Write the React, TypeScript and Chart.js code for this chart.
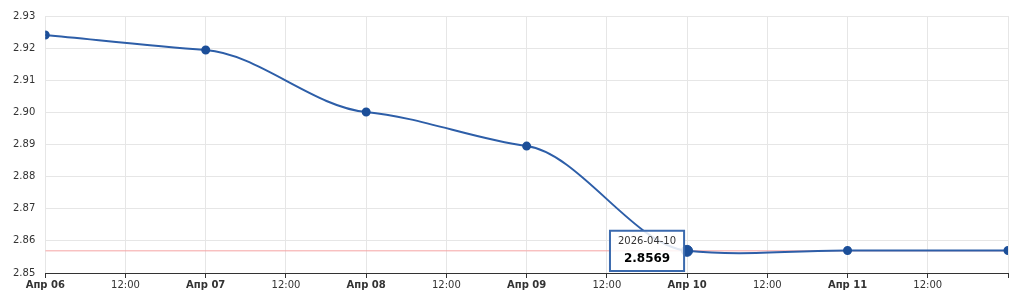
import React, { useEffect, useRef } from "react";
import { Chart, registerables } from "chart.js";

Chart.register(...registerables);

// Hours since 2026-04-06 00:00
const hours = [0, 24, 48, 72, 96, 120, 144];
const dates = ["2026-04-06", "2026-04-07", "2026-04-08", "2026-04-09", "2026-04-10", "2026-04-11", "2026-04-12"];
const rates = [2.9241, 2.9194, 2.9001, 2.8895, 2.8569, 2.857, 2.857];
const currentValue = 2.8569;
const dayLabels = ["Апр 06", "Апр 07", "Апр 08", "Апр 09", "Апр 10", "Апр 11", ""];
const yTicks = [2.85, 2.86, 2.87, 2.88, 2.89, 2.9, 2.91, 2.92, 2.93];
const activeIndex = 4;

const FONT = "'DejaVu Sans', Verdana, sans-serif";
const SMOOTH = 0.32;

// Smooth spline with softened tangents at each point (pixel space)
const smoothPlugin = {
  id: "softSpline",
  beforeDatasetDraw(chart: any, args: any) {
    if (args.index !== 0) return;
    const meta = args.meta;
    const line = meta.dataset;
    const pts = meta.data;
    const n = pts.length;
    if (n < 2) return;
    const m: number[] = new Array(n).fill(0);
    for (let i = 0; i < n; i++) {
      if (i === 0) m[i] = (pts[1].y - pts[0].y) / (pts[1].x - pts[0].x);
      else if (i === n - 1) m[i] = 0;
      else m[i] = SMOOTH * (pts[i + 1].y - pts[i - 1].y) / (pts[i + 1].x - pts[i - 1].x);
    }
    for (let i = 0; i < n; i++) {
      const p = pts[i];
      const dl = i > 0 ? (p.x - pts[i - 1].x) / 3 : 0;
      const dr = i < n - 1 ? (pts[i + 1].x - p.x) / 3 : 0;
      p.cp1x = p.x - dl;
      p.cp1y = p.y - m[i] * dl;
      p.cp2x = p.x + dr;
      p.cp2y = p.y + m[i] * dr;
    }
    line._pointsUpdated = true;
    line._path = undefined;
  },
};

export default function App() {
  const ref = useRef<HTMLCanvasElement | null>(null);

  useEffect(() => {
    const canvas = ref.current;
    if (!canvas) return;
    const chart = new Chart(canvas, {
      type: "line",
      plugins: [smoothPlugin],
      data: {
        datasets: [
          {
            data: hours.map((h, i) => ({ x: h, y: rates[i] })),
            borderColor: "#2d5ea8",
            borderWidth: 2,
            pointBackgroundColor: "#1c4f99",
            pointBorderColor: "#1c4f99",
            pointRadius: 3.5,
            pointHoverRadius: 5.5,
            pointHoverBackgroundColor: "#1c4f99",
            pointHoverBorderColor: "#1c4f99",
            cubicInterpolationMode: "monotone",
            order: 0,
          },
          {
            data: [
              { x: hours[0], y: currentValue },
              { x: hours[hours.length - 1], y: currentValue },
            ],
            borderColor: "#f5a3a3",
            borderWidth: 1,
            pointRadius: 0,
            pointHoverRadius: 0,
            tension: 0,
            order: 1,
          },
        ],
      },
      options: {
        animation: false,
        responsive: true,
        maintainAspectRatio: false,
        events: [],
        layout: { padding: { top: 16, right: 16, bottom: 0, left: 3 } },
        plugins: {
          legend: { display: false },
          tooltip: {
            enabled: true,
            filter: (item: any) => item.datasetIndex === 0,
            backgroundColor: "rgba(255,255,255,0.85)",
            borderColor: "#3b6aae",
            borderWidth: 2,
            cornerRadius: 0,
            caretSize: 0,
            caretPadding: 3,
            xAlign: "right",
            yAlign: "center",
            displayColors: false,
            padding: { top: 5, bottom: 5, left: 8, right: 8 },
            titleAlign: "center",
            bodyAlign: "center",
            titleColor: "#333333",
            bodyColor: "#000000",
            titleFont: { family: FONT, size: 10, weight: "normal" },
            bodyFont: { family: FONT, size: 12, weight: "bold" },
            titleMarginBottom: 4,
            callbacks: {
              title: (items: any[]) => (items.length ? dates[items[0].dataIndex] : ""),
              label: (item: any) => rates[item.dataIndex].toFixed(4),
            },
          },
        },
        scales: {
          x: {
            type: "linear",
            min: hours[0],
            max: hours[hours.length - 1],
            border: { display: true, color: "#333333", width: 1 },
            grid: {
              color: "#e6e6e6",
              tickColor: "#333333",
              tickLength: 5,
              drawTicks: true,
            },
            ticks: {
              stepSize: 12,
              autoSkip: false,
              maxRotation: 0,
              padding: 1,
              color: "#333333",
              font: (ctx: any) => ({
                family: FONT,
                size: 10,
                weight: ctx.tick && ctx.tick.value % 24 === 0 ? "bold" : "normal",
              }),
              callback: (v: any) => {
                const n = Number(v);
                if (n % 24 === 0) {
                  const idx = hours.indexOf(n);
                  return idx >= 0 ? dayLabels[idx] : "";
                }
                return "12:00";
              },
            },
          },
          y: {
            type: "linear",
            min: yTicks[0],
            max: yTicks[yTicks.length - 1],
            border: { display: false },
            grid: { color: "#e6e6e6", drawTicks: false },
            afterBuildTicks: (axis: any) => {
              axis.ticks = yTicks.map((v) => ({ value: v }));
            },
            ticks: {
              padding: 10,
              color: "#333333",
              font: { family: FONT, size: 10 },
              callback: (v: any) => Number(v).toFixed(2),
            },
          },
        },
      },
    } as any);

    const meta = chart.getDatasetMeta(0);
    const el: any = meta.data[activeIndex];
    const active = [{ datasetIndex: 0, index: activeIndex }];
    chart.setActiveElements(active);
    chart.tooltip?.setActiveElements(active, { x: el.x, y: el.y });
    chart.update();

    return () => chart.destroy();
  }, []);

  return (
    <div style={{ position: "fixed", left: 0, top: 0, width: 1024, height: 292, background: "#fff" }}>
      <canvas ref={ref} />
    </div>
  );
}
